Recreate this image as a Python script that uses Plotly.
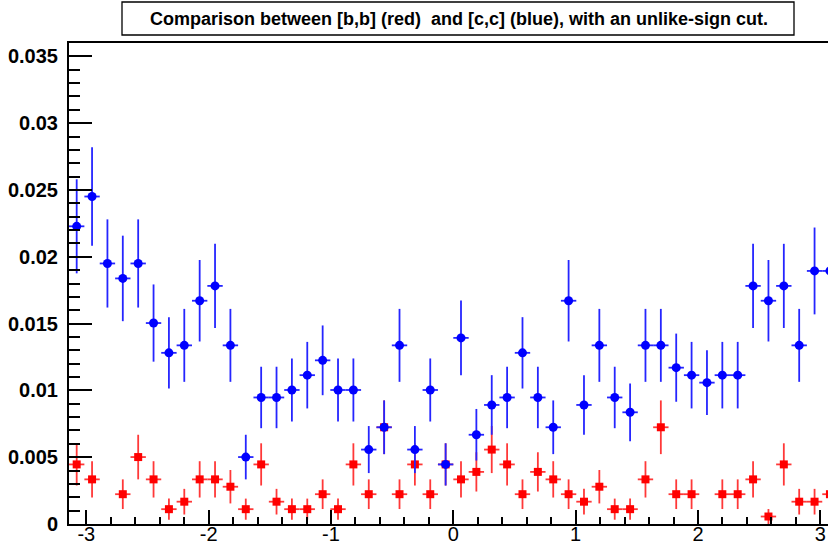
import numpy as np
import plotly.graph_objects as go

# 50 bins over the full azimuthal range [-pi, pi]
n_bins = 50
bin_edges = np.linspace(-np.pi, np.pi, n_bins + 1)
bin_centres = 0.5 * (bin_edges[:-1] + bin_edges[1:])
half_width = 0.5 * (bin_edges[1] - bin_edges[0])

# [c,c] pairs (blue)
cc_values = [
    0.02228, 0.02451, 0.01950, 0.01838, 0.01950, 0.01504, 0.01281, 0.01337, 0.01671, 0.01782,
    0.01337, 0.00501, 0.00947, 0.00947, 0.01003, 0.01114, 0.01225, 0.01003, 0.01003, 0.00557,
    0.00724, 0.01337, 0.00557, 0.01003, 0.00446, 0.01393, 0.00668, 0.00891, 0.00947, 0.01281,
    0.00947, 0.00724, 0.01671, 0.00891, 0.01337, 0.00947, 0.00836, 0.01337, 0.01337, 0.01170,
    0.01114, 0.01058, 0.01114, 0.01114, 0.01782, 0.01671, 0.01782, 0.01337, 0.01894, 0.01894,
]
cc_errors = [
    0.00352, 0.00369, 0.00330, 0.00320, 0.00330, 0.00289, 0.00267, 0.00273, 0.00305, 0.00315,
    0.00273, 0.00167, 0.00230, 0.00230, 0.00236, 0.00249, 0.00261, 0.00236, 0.00236, 0.00176,
    0.00201, 0.00273, 0.00176, 0.00236, 0.00158, 0.00279, 0.00193, 0.00223, 0.00230, 0.00267,
    0.00230, 0.00201, 0.00305, 0.00223, 0.00273, 0.00230, 0.00216, 0.00273, 0.00273, 0.00255,
    0.00249, 0.00243, 0.00249, 0.00249, 0.00315, 0.00305, 0.00315, 0.00273, 0.00325, 0.00325,
]

# [b,b] pairs (red); empty bins are left undrawn
bb_values = [
    0.00446, 0.00334, None, 0.00223, 0.00501, 0.00334, 0.00111, 0.00167, 0.00334, 0.00334,
    0.00279, 0.00111, 0.00446, 0.00167, 0.00111, 0.00111, 0.00223, 0.00111, 0.00446, 0.00223,
    0.00724, 0.00223, 0.00446, 0.00223, 0.00446, 0.00334, 0.00390, 0.00557, 0.00446, 0.00223,
    0.00390, 0.00334, 0.00223, 0.00167, 0.00279, 0.00111, 0.00111, 0.00334, 0.00724, 0.00223,
    0.00223, None, 0.00223, 0.00223, 0.00334, 0.00056, 0.00446, 0.00167, 0.00167, 0.00223,
]
bb_errors = [
    0.00158, 0.00136, None, 0.00111, 0.00167, 0.00136, 0.00079, 0.00096, 0.00136, 0.00136,
    0.00125, 0.00079, 0.00158, 0.00096, 0.00079, 0.00079, 0.00111, 0.00079, 0.00158, 0.00111,
    0.00201, 0.00111, 0.00158, 0.00111, 0.00158, 0.00136, 0.00147, 0.00176, 0.00158, 0.00111,
    0.00147, 0.00136, 0.00111, 0.00096, 0.00125, 0.00079, 0.00079, 0.00136, 0.00201, 0.00111,
    0.00111, None, 0.00111, 0.00111, 0.00136, 0.00056, 0.00158, 0.00096, 0.00096, 0.00111,
]

x_tick_vals = [-3, -2, -1, 0, 1, 2, 3]
x_tick_text = ["-3", "-2", "-1", "0", "1", "2", "3"]

title_text = "Comparison between [b,b] (red)\u00a0 and [c,c] (blue), with an unlike-sign cut."

FONT = "Liberation Sans, Arial, Helvetica, sans-serif"
W, H = 828, 546
M_L, M_R, M_T, M_B = 69, 0, 43, 22
plot_w = W - M_L - M_R
plot_h = H - M_T - M_B
px_per_unit = 122.33

fig = go.Figure()

fig.add_trace(go.Scatter(
    x=bin_centres, y=bb_values, mode="markers", name="[b,b]",
    marker=dict(symbol="square", size=8, color="#ff0000"),
    error_y=dict(type="data", array=bb_errors, visible=True, color="#ff3838", thickness=1.8, width=0),
    error_x=dict(type="constant", value=half_width, visible=True, color="#ff3838", thickness=1.8, width=0),
    showlegend=False,
))
fig.add_trace(go.Scatter(
    x=bin_centres, y=cc_values, mode="markers", name="[c,c]",
    marker=dict(symbol="circle", size=9, color="#0000ff"),
    error_y=dict(type="data", array=cc_errors, visible=True, color="#2525ff", thickness=1.8, width=0),
    error_x=dict(type="constant", value=half_width, visible=True, color="#2525ff", thickness=1.8, width=0),
    showlegend=False,
))

# title pave: a bordered white box above the frame
def px_to_paper_x(px):
    return (px - M_L) / plot_w

def px_to_paper_y(py):
    return (H - M_B - py) / plot_h

fig.add_shape(
    type="rect", xref="paper", yref="paper",
    x0=px_to_paper_x(122), x1=px_to_paper_x(794),
    y0=px_to_paper_y(35), y1=px_to_paper_y(2),
    line=dict(color="black", width=1.3), fillcolor="white", layer="above",
)
fig.add_annotation(
    xref="paper", yref="paper",
    x=px_to_paper_x(459), y=px_to_paper_y(18.5),
    text="<b>" + title_text + "</b>", showarrow=False,
    font=dict(family=FONT, size=18, color="black"),
    xanchor="center", yanchor="middle",
)

x_lo = -np.pi
x_hi = x_lo + plot_w / px_per_unit

fig.update_layout(
    width=W, height=H,
    margin=dict(l=M_L, r=M_R, t=M_T, b=M_B, pad=0, autoexpand=False),
    paper_bgcolor="white", plot_bgcolor="white",
    font=dict(family=FONT, color="black"),
    xaxis=dict(
        range=[x_lo, x_hi], showgrid=False, zeroline=False,
        showline=True, linecolor="black", linewidth=2, mirror=True,
        tickmode="array", tickvals=x_tick_vals, ticktext=x_tick_text,
        ticks="inside", ticklen=14, tickwidth=1.5, tickcolor="black",
        minor=dict(tick0=0, dtick=0.2, ticks="inside", ticklen=7, tickwidth=1.5, tickcolor="black"),
        tickfont=dict(family=FONT, size=20, color="black"),
        ticklabelstandoff=-9,
        automargin=False,
    ),
    yaxis=dict(
        range=[0, 0.036], showgrid=False, zeroline=False,
        showline=True, linecolor="black", linewidth=2, mirror=False,
        tick0=0, dtick=0.005,
        ticks="inside", ticklen=23, tickwidth=1.5, tickcolor="black",
        minor=dict(tick0=0, dtick=0.001, ticks="inside", ticklen=11, tickwidth=1.5, tickcolor="black"),
        tickfont=dict(family=FONT, size=20, color="black", weight="bold"),
        ticklabelstandoff=5,
        automargin=False,
    ),
)

fig.write_html("out.html")
